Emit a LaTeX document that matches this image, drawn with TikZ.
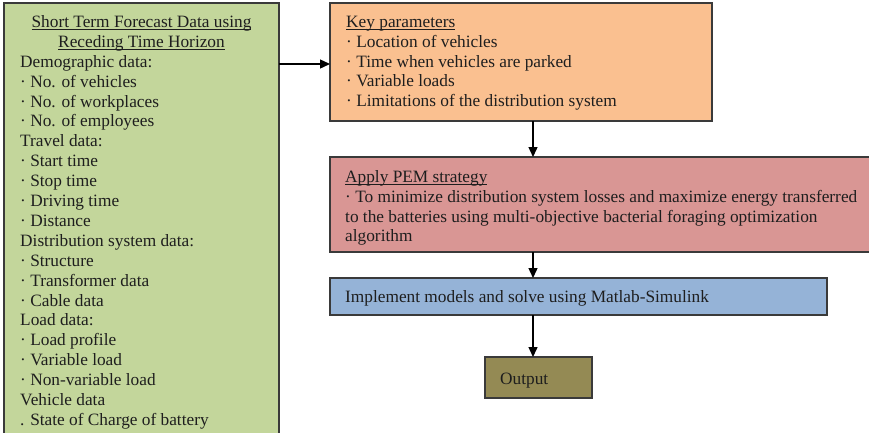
\documentclass[tikz,border=0pt]{standalone}
\usepackage{fontspec}
\setmainfont{Liberation Serif}
\usetikzlibrary{arrows.meta}

% underline drawn a fixed distance below the baseline
\newcommand\ulin[1]{\setbox0\hbox{#1}\rlap{\rule[-2.6pt]{\wd0}{0.9pt}}\box0}

\definecolor{greenfill}{HTML}{C3D69B}
\definecolor{orangefill}{HTML}{FAC090}
\definecolor{redfill}{HTML}{D99694}
\definecolor{bluefill}{HTML}{95B3D7}
\definecolor{olivefill}{HTML}{948A54}
\definecolor{boxline}{HTML}{3A3A3A}
\definecolor{textcol}{HTML}{1E1E1E}

\begin{document}
\begin{tikzpicture}[x=1pt,y=-1pt,
  box/.style={draw=boxline,line width=1.2pt,inner sep=0pt,outer sep=0pt,anchor=north west},
  txt/.style={anchor=north west,inner sep=0pt,align=left,
    font={\fontsize{17.3}{19.9}\selectfont},text=textcol},
  arr/.style={-{Triangle[length=10pt,width=9pt]},line width=1.4pt,draw=black}]
\useasboundingbox (0,0) rectangle (869,432);
\clip (0,0) rectangle (869,432);

% boxes
\node[box,fill=greenfill,minimum width=275pt,minimum height=450pt] (green) at (4,3) {};
\node[box,fill=orangefill,minimum width=382pt,minimum height=118pt] (orange) at (330,3) {};
\node[box,fill=redfill,minimum width=542pt,minimum height=95pt] (red) at (330,157) {};
\node[box,fill=bluefill,minimum width=497pt,minimum height=37pt] (blue) at (330,278) {};
\node[box,fill=olivefill,minimum width=107pt,minimum height=41pt] (output) at (485,357) {};

% texts
\node[txt,anchor=north,align=center] (gtitle) at (141.5,13.07)
  {\strut\ulin{Short Term Forecast Data using}\\\ulin{Receding Time Horizon}};
\node[txt] (glist) at (20,53.07)
  {\strut Demographic data:\\
   · No. of vehicles\\
   · No. of workplaces\\
   · No. of employees\\
   Travel data:\\
   · Start time\\
   · Stop time\\
   · Driving time\\
   · Distance\\
   Distribution system data:\\
   · Structure\\
   · Transformer data\\
   · Cable data\\
   Load data:\\
   · Load profile\\
   · Variable load\\
   · Non-variable load\\
   Vehicle data\\
   . State of Charge of battery};
\node[txt] (otext) at (346,13.07)
  {\strut\ulin{Key parameters}\\
   · Location of vehicles\\
   · Time when vehicles are parked\\
   · Variable loads\\
   · Limitations of the distribution system};
\node[txt] (rtext) at (345,168.07)
  {\strut\ulin{Apply PEM strategy}\\
   · To minimize distribution system losses and maximize energy transferred\\
   to the batteries using multi-objective bacterial foraging optimization\\
   algorithm};
\node[txt] (btext) at (345,288.07)
  {\strut Implement models and solve using Matlab-Simulink};
\node[txt] (otxt) at (500,370.07) {\strut Output};

% connectors
\coordinate (spine) at (533,0);
\coordinate (feed) at ([yshift=-2pt]orange.west);
\draw[arr] (green.east |- feed) -- (feed);
\draw[arr] (orange.south -| spine) -- (red.north -| spine);
\draw[arr] (red.south -| spine) -- (blue.north -| spine);
\draw[arr] (blue.south -| spine) -- (output.north -| spine);
\end{tikzpicture}
\end{document}
